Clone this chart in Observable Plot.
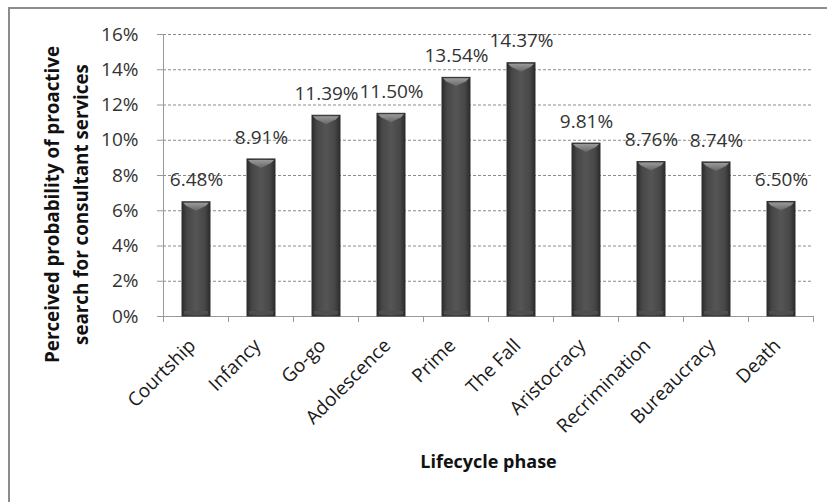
<!DOCTYPE html>
<html><head><meta charset="utf-8">
<script src="https://cdn.jsdelivr.net/npm/d3@7"></script>
<script src="https://cdn.jsdelivr.net/npm/@observablehq/plot@0.6"></script>
<style>
body{margin:0;background:#fff;}
#wrap{position:relative;width:827px;height:502px;overflow:hidden;background:#fff;}
#border{position:absolute;left:8px;top:7px;width:850px;height:530px;border:2px solid #8c8c8c;box-sizing:border-box;}
#wrap svg{position:absolute;left:0;top:0;}
</style></head><body><div id="wrap"><div id="border"></div></div>
<script>
const phases = ["Courtship","Infancy","Go-go","Adolescence","Prime","The Fall","Aristocracy","Recrimination","Bureaucracy","Death"];
const probabilities = [6.48, 8.91, 11.39, 11.50, 13.54, 14.37, 9.81, 8.76, 8.74, 6.50];
const yTicks = [0, 2, 4, 6, 8, 10, 12, 14, 16];
const yTitle = ["Perceived probability of proactive", "search for consultant services"];
const xTitle = "Lifecycle phase";

const data = phases.map((p, i) => ({phase: p, value: probabilities[i]}));
const font = "'Open Sans', sans-serif";

const plot = Plot.plot({
  width: 827, height: 502,
  marginLeft: 163, marginRight: 14, marginTop: 34, marginBottom: 186,
  style: {fontFamily: font, fontSize: "19px", color: "#333", background: "transparent", overflow: "visible"},
  x: {domain: phases, paddingInner: 0.57, paddingOuter: 0.285, label: null},
  y: {domain: [0, 16], label: null},
  marks: [
    Plot.gridY(yTicks.filter(d => d > 0), {stroke: "#8a8a8a", strokeOpacity: 1, strokeDasharray: "3,2"}),
    Plot.axisY(yTicks, {tickFormat: d => d + "%", tickSize: 6, tickPadding: 19, stroke: "#999", fill: "#333", fontSize: 19, label: null}),
    Plot.axisX({tickRotate: -45, tickSize: 0, tickPadding: 12, dx: -4, dy: 14, fill: "#1a1a1a", fontSize: 19, label: null}),
    Plot.ruleY([0], {stroke: "#999"}),
    Plot.barY(data, {x: "phase", y: "value", fill: "url(#barGrad)", stroke: "#2e2e2e", strokeWidth: 1}),
    Plot.text(data, {x: "phase", y: "value", text: d => d.value.toFixed(2) + "%", dy: -22, fontSize: 19, fill: "#333"}),
    Plot.text([yTitle.join("\n")], {frameAnchor: "left", textAnchor: "middle", lineAnchor: "middle", rotate: -90, dx: -99, dy: 29, fontSize: 18.8, fontWeight: "bold", lineHeight: 1.5, fill: "#111"}),
    Plot.text([xTitle], {frameAnchor: "bottom", dy: 151, fontSize: 18, fontWeight: "bold", fill: "#111"})
  ]
});

document.getElementById("wrap").appendChild(plot);

// gradients and decorations
const svg = d3.select(plot);
const defs = svg.insert("defs", ":first-child");
const g1 = defs.append("linearGradient").attr("id", "barGrad").attr("x1", 0).attr("x2", 1).attr("y1", 0).attr("y2", 0);
[["0%", "#2c2c2c"], ["18%", "#474747"], ["50%", "#555555"], ["82%", "#474747"], ["100%", "#2c2c2c"]]
  .forEach(([o, c]) => g1.append("stop").attr("offset", o).attr("stop-color", c));
const g2 = defs.append("linearGradient").attr("id", "bevelGrad").attr("x1", 0).attr("x2", 0).attr("y1", 0).attr("y2", 1);
[["0%", "#9a9a9a"], ["100%", "#666666"]].forEach(([o, c]) => g2.append("stop").attr("offset", o).attr("stop-color", c));

const bevels = svg.append("g");
svg.selectAll("g[aria-label='bar'] rect").each(function() {
  const r = d3.select(this);
  const x = +r.attr("x"), y = +r.attr("y"), w = +r.attr("width"), h = +r.attr("height");
  bevels.append("polygon")
    .attr("points", [[x + 1, y + 1], [x + w - 1, y + 1], [x + w - 4, y + 4], [x + w / 2, y + 9], [x + 4, y + 4]].map(p => p.join(",")).join(" "))
    .attr("fill", "url(#bevelGrad)");
  bevels.append("rect").attr("x", x + 2).attr("y", y + h - 5).attr("width", w - 4).attr("height", 3).attr("fill", "#4e4e4e");
});

// category boundary ticks and y axis line
const xs = plot.scale("x"), ys = plot.scale("y");
const start = xs.apply(phases[0]) - (xs.step - xs.bandwidth) / 2;
const y0 = ys.apply(0), yTop = ys.apply(16);
const axes = svg.append("g").attr("stroke", "#999").attr("stroke-width", 1);
axes.append("line").attr("x1", start).attr("x2", start).attr("y1", yTop).attr("y2", y0);
for (let i = 0; i <= phases.length; i++) {
  const bx = start + i * xs.step;
  axes.append("line").attr("x1", bx).attr("x2", bx).attr("y1", y0).attr("y2", y0 + 6);
}
</script></body></html>
